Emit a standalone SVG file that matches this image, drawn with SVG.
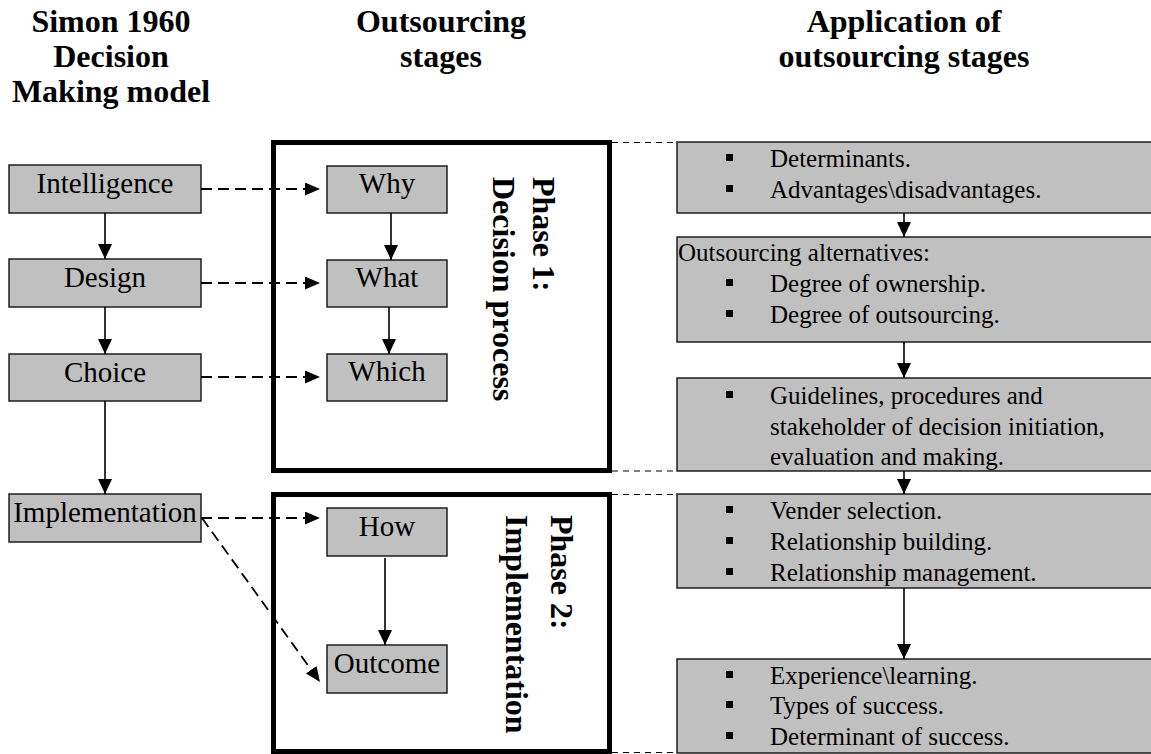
<svg xmlns="http://www.w3.org/2000/svg" width="1151" height="754" viewBox="0 0 1151 754">
<defs>
<marker id="ah" markerUnits="userSpaceOnUse" markerWidth="16" markerHeight="14" refX="15" refY="7" orient="auto">
<path d="M0,0 L15,7 L0,14 z" fill="#000"/>
</marker>
<marker id="ahs" markerUnits="userSpaceOnUse" markerWidth="16" markerHeight="14" refX="15" refY="6.5" orient="auto">
<path d="M0,0 L15,6.5 L0,13 z" fill="#000"/>
</marker>
<style>
.hd{font-family:"Liberation Serif","Times New Roman",serif;font-weight:bold;font-size:32px;fill:#000;text-anchor:middle}
.ph{font-family:"Liberation Serif","Times New Roman",serif;font-weight:bold;font-size:32px;fill:#000}
.box{fill:#c0c0c0;stroke:#111;stroke-width:1.4}
.bt{font-family:"Liberation Serif","Times New Roman",serif;font-size:29px;fill:#000;text-anchor:middle}
.rt{font-family:"Liberation Serif","Times New Roman",serif;font-size:25px;fill:#000}
.frame{fill:#fff;stroke:#000;stroke-width:5}
.sa{stroke:#000;stroke-width:1.6;fill:none;marker-end:url(#ah)}
.da{stroke:#000;stroke-width:1.8;fill:none;stroke-dasharray:11 6;marker-end:url(#ahs)}
.dl{stroke:#000;stroke-width:1;fill:none;stroke-dasharray:6 5}
.bl{fill:#000}
</style>
</defs>

<g id="headers">
<text class="hd" x="111" y="32">Simon 1960</text>
<text class="hd" x="111" y="67">Decision</text>
<text class="hd" x="111" y="102">Making model</text>
<text class="hd" x="441" y="32">Outsourcing</text>
<text class="hd" x="441" y="67">stages</text>
<text class="hd" x="904" y="32">Application of</text>
<text class="hd" x="904" y="67">outsourcing stages</text>
</g>

<g id="phase1">
<rect class="frame" x="273.5" y="142.5" width="336" height="328"/>
<text class="ph" transform="rotate(90 533 177)" x="533" y="177">Phase 1:</text>
<text class="ph" transform="rotate(90 493 177)" x="493" y="177">Decision process</text>
</g>
<g id="phase2">
<rect class="frame" x="273.5" y="494.5" width="336" height="257"/>
<text class="ph" transform="rotate(90 551 515)" x="551" y="515">Phase 2:</text>
<text class="ph" transform="rotate(90 506 515)" x="506" y="515">Implementation</text>
</g>

<g id="intelligence"><rect class="box" x="9" y="165" width="192" height="48"/><text class="bt" x="105" y="193">Intelligence</text></g>
<g id="design"><rect class="box" x="9" y="259" width="192" height="48"/><text class="bt" x="105" y="287">Design</text></g>
<g id="choice"><rect class="box" x="9" y="354" width="192" height="47"/><text class="bt" x="105" y="382">Choice</text></g>
<g id="implementation"><rect class="box" x="9" y="494" width="192" height="48"/><text class="bt" x="105" y="522">Implementation</text></g>

<g id="why"><rect class="box" x="327" y="166" width="120" height="47"/><text class="bt" x="387" y="193">Why</text></g>
<g id="what"><rect class="box" x="327" y="260" width="120" height="47"/><text class="bt" x="387" y="287">What</text></g>
<g id="which"><rect class="box" x="327" y="354" width="120" height="47"/><text class="bt" x="387" y="381">Which</text></g>
<g id="how"><rect class="box" x="327" y="508" width="120" height="48"/><text class="bt" x="387" y="536">How</text></g>
<g id="outcome"><rect class="box" x="327" y="645" width="120" height="48"/><text class="bt" x="387" y="673">Outcome</text></g>

<g id="app1"><rect class="box" x="677" y="142" width="500" height="71"/>
<rect class="bl" x="726" y="154" width="7" height="7"/><text class="rt" x="770" y="167">Determinants.</text>
<rect class="bl" x="726" y="185" width="7" height="7"/><text class="rt" x="770" y="198">Advantages\disadvantages.</text>
</g>
<g id="app2"><rect class="box" x="677" y="237" width="500" height="105"/>
<text class="rt" x="678" y="261">Outsourcing alternatives:</text>
<rect class="bl" x="726" y="279" width="7" height="7"/><text class="rt" x="770" y="292">Degree of ownership.</text>
<rect class="bl" x="726" y="310" width="7" height="7"/><text class="rt" x="770" y="323">Degree of outsourcing.</text>
</g>
<g id="app3"><rect class="box" x="677" y="378" width="500" height="93"/>
<rect class="bl" x="726" y="391" width="7" height="7"/><text class="rt" x="770" y="404">Guidelines, procedures and</text>
<text class="rt" x="770" y="435">stakeholder of decision initiation,</text>
<text class="rt" x="770" y="465">evaluation and making.</text>
</g>
<g id="app4"><rect class="box" x="677" y="494" width="500" height="94"/>
<rect class="bl" x="726" y="506" width="7" height="7"/><text class="rt" x="770" y="519">Vender selection.</text>
<rect class="bl" x="726" y="537" width="7" height="7"/><text class="rt" x="770" y="550">Relationship building.</text>
<rect class="bl" x="726" y="568" width="7" height="7"/><text class="rt" x="770" y="581">Relationship management.</text>
</g>
<g id="app5"><rect class="box" x="677" y="659" width="500" height="94"/>
<rect class="bl" x="726" y="671" width="7" height="7"/><text class="rt" x="770" y="684">Experience\learning.</text>
<rect class="bl" x="726" y="701" width="7" height="7"/><text class="rt" x="770" y="714">Types of success.</text>
<rect class="bl" x="726" y="732" width="7" height="7"/><text class="rt" x="770" y="745">Determinant of success.</text>
</g>

<g id="connectors">
<line class="sa" x1="105" y1="213" x2="105" y2="259"/>
<line class="sa" x1="105" y1="307" x2="105" y2="354"/>
<line class="sa" x1="105" y1="401" x2="105" y2="494"/>
<line class="sa" x1="391" y1="213" x2="391" y2="260"/>
<line class="sa" x1="389" y1="307" x2="389" y2="354"/>
<line class="sa" x1="385" y1="558" x2="385" y2="645"/>
<line class="sa" x1="904" y1="213" x2="904" y2="237"/>
<line class="sa" x1="904" y1="342" x2="904" y2="378"/>
<line class="sa" x1="904" y1="471" x2="904" y2="494"/>
<line class="sa" x1="904" y1="588" x2="904" y2="659"/>
<line class="da" x1="201" y1="189" x2="320" y2="189"/>
<line class="da" x1="201" y1="283" x2="320" y2="283"/>
<line class="da" x1="201" y1="377" x2="320" y2="377"/>
<line class="da" x1="201" y1="518" x2="320" y2="518"/>
<line class="da" x1="202" y1="518" x2="320" y2="682"/>
<line class="dl" x1="612" y1="142.5" x2="677" y2="142.5"/>
<line class="dl" x1="612" y1="471" x2="677" y2="471"/>
<line class="dl" x1="612" y1="494.5" x2="677" y2="494.5"/>
<line class="dl" x1="612" y1="752.5" x2="677" y2="752.5"/>
</g>
</svg>
